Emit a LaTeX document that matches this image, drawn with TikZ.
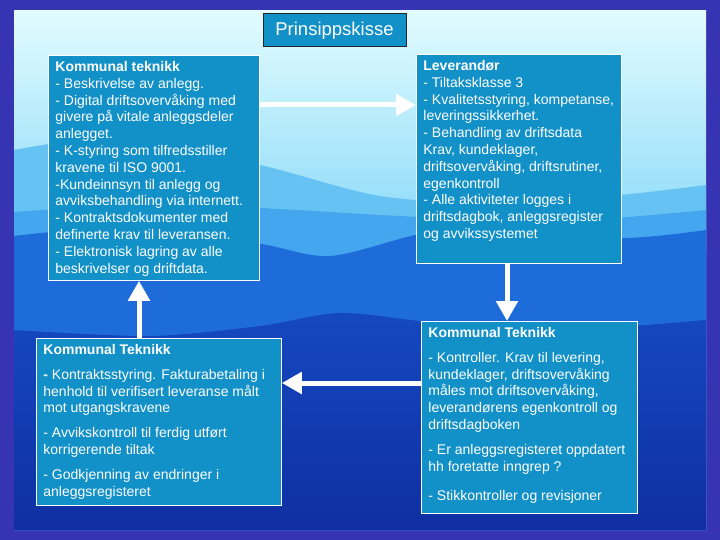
\documentclass[tikz,border=0pt]{standalone}
\usepackage{fontspec}
\setmainfont{Liberation Sans}
\usetikzlibrary{arrows.meta}

\definecolor{frameblue}{HTML}{3634B2}
\definecolor{skytop}{HTML}{E2FCFF}
\definecolor{skylow}{HTML}{86D8F8}
\definecolor{hillA}{HTML}{66C2F2}
\definecolor{hillB}{HTML}{44A6EE}
\definecolor{hillC}{HTML}{1E6CDA}
\definecolor{hillD}{HTML}{1548C0}
\definecolor{hillE}{HTML}{0F2FA2}
\definecolor{boxblue}{HTML}{1290C8}

\pgfdeclareverticalshading{sky}{100bp}{color(0bp)=(skylow); color(25bp)=(skylow); color(75bp)=(skytop); color(100bp)=(skytop)}

\newcommand{\boxtext}[3]{\parbox[t][#2][t]{#1}{\raggedright #3}}

\tikzset{
  infobox/.style={draw=white, line width=0.8pt, fill=boxblue, text=white,
    anchor=north west, inner xsep=7pt, inner ysep=6pt,
    font=\fontsize{14}{16.8}\selectfont},
  titlebox/.style={draw=black!85, line width=1pt, fill=boxblue, text=white,
    minimum width=143pt, minimum height=33pt, inner sep=0pt,
    font=\fontsize{18.5}{22}\selectfont},
  flow/.style={white, line width=5pt, -{Triangle[length=20pt,width=21pt]}}
}

\begin{document}
\begin{tikzpicture}[x=1pt,y=-1pt]

% background
\fill[frameblue] (0,0) rectangle (720,540);
\shade[shading=sky] (14,11) rectangle (706,250);
\fill[hillA] plot[smooth] coordinates {(14,150) (120,138) (260,165) (380,196) (500,203) (620,195) (706,185)} -- (706,530) -- (14,530) -- cycle;
\fill[hillB] plot[smooth] coordinates {(14,212) (150,204) (260,208) (400,216) (550,222) (706,210)} -- (706,530) -- (14,530) -- cycle;
\fill[hillC] plot[smooth] coordinates {(14,236) (120,228) (255,243) (330,256) (425,233) (520,225) (620,238) (706,230)} -- (706,530) -- (14,530) -- cycle;
\shade[top color=hillD, bottom color=hillE] plot[smooth] coordinates {(14,330) (150,336) (260,326) (340,313) (430,322) (560,330) (706,320)} -- (706,530) -- (14,530) -- cycle;

\node[titlebox] (title) at (334.5,30.5) {Prinsippskisse};

\node[infobox] (tl) at (48,55) {\boxtext{197pt}{213pt}{%
\textbf{Kommunal teknikk}\\
- Beskrivelse av anlegg.\\
- Digital driftsovervåking med\\
givere på vitale anleggsdeler\\
anlegget.\\
- K-styring som tilfredsstiller\\
kravene til ISO 9001.\\
-Kundeinnsyn til anlegg og\\
avviksbehandling via internett.\\
- Kontraktsdokumenter med\\
definerte krav til leveransen.\\
- Elektronisk lagring av alle\\
beskrivelser og driftdata.}};

\node[infobox] (tr) at (416,54) {\boxtext{191pt}{197pt}{%
\textbf{Leverandør}\\
- Tiltaksklasse 3\\
- Kvalitetsstyring, kompetanse,\\
leveringssikkerhet.\\
- Behandling av driftsdata\\
Krav, kundeklager,\\
driftsovervåking, driftsrutiner,\\
egenkontroll\\
- Alle aktiviteter logges i\\
driftsdagbok, anleggsregister\\
og avvikssystemet}};

\node[infobox] (bl) at (36,338) {\boxtext{231pt}{155pt}{%
\textbf{Kommunal Teknikk}\\[8pt]
\textbf{-} Kontraktsstyring. Fakturabetaling i\\
henhold til verifisert leveranse målt\\
mot utgangskravene\\[8pt]
- Avvikskontroll til ferdig utført\\
korrigerende tiltak\\[8pt]
- Godkjenning av endringer i\\
anleggsregisteret}};

\node[infobox] (br) at (421,321) {\boxtext{202pt}{180pt}{%
\textbf{Kommunal Teknikk}\\[8pt]
- Kontroller. Krav til levering,\\
kundeklager, driftsovervåking\\
måles mot driftsovervåking,\\
leverandørens egenkontroll og\\
driftsdagboken\\[8pt]
- Er anleggsregisteret oppdatert\\
hh foretatte inngrep ?\\[13pt]
- Stikkontroller og revisjoner}};

% arrows
\path (tl.north east) ++(0,50) coordinate (a1);
\draw[flow] (a1) -- (a1 -| tr.west);
\path (tr.south west) ++(91,0) coordinate (a2);
\draw[flow] (a2) -- (a2 |- br.north);
\path (br.north west) ++(0,62) coordinate (a3);
\draw[flow] (a3) -- (a3 -| bl.east);
\path (bl.north west) ++(103,0) coordinate (a4);
\draw[flow] (a4) -- (a4 |- tl.south);

\end{tikzpicture}
\end{document}
